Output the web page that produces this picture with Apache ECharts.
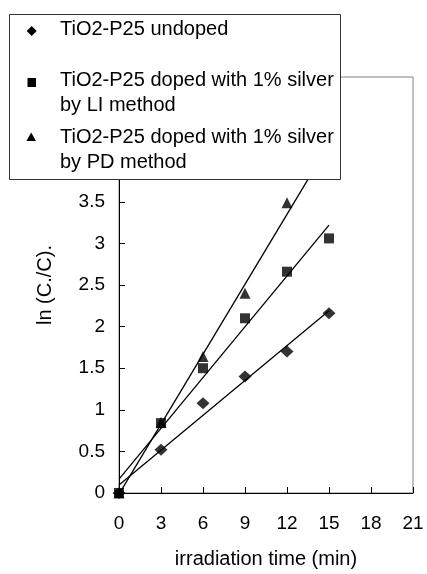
<!DOCTYPE html>
<html>
<head>
<meta charset="utf-8">
<script src="https://cdn.jsdelivr.net/npm/echarts@6/dist/echarts.min.js"></script>
<style>
html,body{margin:0;padding:0;background:#fff;}
#chart{width:427px;height:574px;}
</style>
</head>
<body>
<div id="chart"></div>
<script>
// ---- data ----
const timeMin = [0, 3, 6, 9, 12, 15];
const undoped = [0, 0.52, 1.08, 1.40, 1.70, 2.16];
const dopedLI = [0, 0.84, 1.50, 2.10, 2.66, 3.06];
const dopedPD = [0, 0.85, 1.64, 2.40, 3.49, 4.15];
const seriesNames = [
  'TiO2-P25 undoped',
  'TiO2-P25 doped with 1% silver\nby LI method',
  'TiO2-P25 doped with 1% silver\nby PD method'
];
const xTickStep = 3, xMax = 21;
const yTickStep = 0.5, yMax = 5;
const xTitle = 'irradiation time (min)';
const yTitle = 'ln (C./C).';

const FONT = '"Liberation Sans", Arial, sans-serif';

function pairs(xs, ys) { return xs.map((x, i) => [x, ys[i]]); }
function fitLine(xs, ys) {
  const n = xs.length;
  const mx = xs.reduce((a, b) => a + b, 0) / n;
  const my = ys.reduce((a, b) => a + b, 0) / n;
  let sxy = 0, sxx = 0;
  for (let i = 0; i < n; i++) { sxy += (xs[i] - mx) * (ys[i] - my); sxx += (xs[i] - mx) ** 2; }
  const m = sxy / sxx, b = my - m * mx;
  const x0 = xs[0], x1 = xs[n - 1];
  return [[x0, m * x0 + b], [x1, m * x1 + b]];
}

const chart = echarts.init(document.getElementById('chart'), null, {renderer: 'canvas'});

const lineStyle = {color: '#000', width: 1.3};
function trend(ys) {
  return {type: 'line', data: fitLine(timeMin, ys), symbol: 'none', silent: true,
          lineStyle: lineStyle, z: 2, animation: false};
}
function scatter(name, ys, symbol, size) {
  return {type: 'scatter', name: name, data: pairs(timeMin, ys), symbol: symbol,
          symbolSize: size, itemStyle: {color: '#000'}, z: 3, animation: false};
}

const option = {
  animation: false,
  backgroundColor: '#fff',
  textStyle: {fontFamily: FONT},
  grid: {left: 119, right: 14, top: 77, bottom: 77, show: true,
         borderColor: '#808080', borderWidth: 1, backgroundColor: 'transparent'},
  xAxis: {
    type: 'value', min: 0, max: xMax, interval: xTickStep,
    name: xTitle, nameLocation: 'middle', nameGap: 56,
    nameTextStyle: {fontSize: 20, color: '#000', fontFamily: FONT},
    axisLine: {show: true, lineStyle: {color: '#000', width: 1}},
    axisTick: {show: true, inside: true, length: 6, lineStyle: {color: '#000'}},
    axisLabel: {fontSize: 19, color: '#000', margin: 21, fontFamily: FONT},
    splitLine: {show: false}
  },
  yAxis: {
    type: 'value', min: 0, max: yMax, interval: yTickStep,
    name: yTitle, nameLocation: 'middle', nameGap: 64, nameRotate: 90,
    nameTextStyle: {fontSize: 20, color: '#000', fontFamily: FONT},
    axisLine: {show: true, lineStyle: {color: '#000', width: 1}},
    axisTick: {show: true, inside: true, length: 6, lineStyle: {color: '#000'}},
    axisLabel: {fontSize: 19, color: '#000', margin: 14, fontFamily: FONT},
    splitLine: {show: false}
  },
  series: [
    trend(undoped), trend(dopedLI), trend(dopedPD),
    scatter(seriesNames[0], undoped, 'diamond', [13, 12]),
    scatter(seriesNames[1], dopedLI, 'rect', 10),
    scatter(seriesNames[2], dopedPD, 'triangle', 11)
  ],
  graphic: [
    {type: 'rect', z: 100, shape: {x: 9.5, y: 14.5, width: 331, height: 165},
     style: {fill: '#fff', stroke: '#333', lineWidth: 1}},
    {type: 'polygon', z: 101, shape: {points: [[31.7, 26], [36.7, 31], [31.7, 36], [26.7, 31]]},
     style: {fill: '#000'}},
    {type: 'rect', z: 101, shape: {x: 27.5, y: 78, width: 8.5, height: 9}, style: {fill: '#000'}},
    {type: 'polygon', z: 101, shape: {points: [[31.2, 132.5], [36, 141], [26.4, 141]]},
     style: {fill: '#000'}},
    {type: 'text', z: 101, x: 60, y: 29,
     style: {text: seriesNames[0], font: '20px ' + FONT, fill: '#000', verticalAlign: 'middle', align: 'left'}},
    {type: 'text', z: 101, x: 60, y: 93.1,
     style: {text: seriesNames[1], font: '20px ' + FONT, lineHeight: 25, fill: '#000', verticalAlign: 'middle', align: 'left'}},
    {type: 'text', z: 101, x: 60, y: 149.7,
     style: {text: seriesNames[2], font: '20px ' + FONT, lineHeight: 25, fill: '#000', verticalAlign: 'middle', align: 'left'}}
  ]
};
chart.setOption(option);
</script>
</body>
</html>
